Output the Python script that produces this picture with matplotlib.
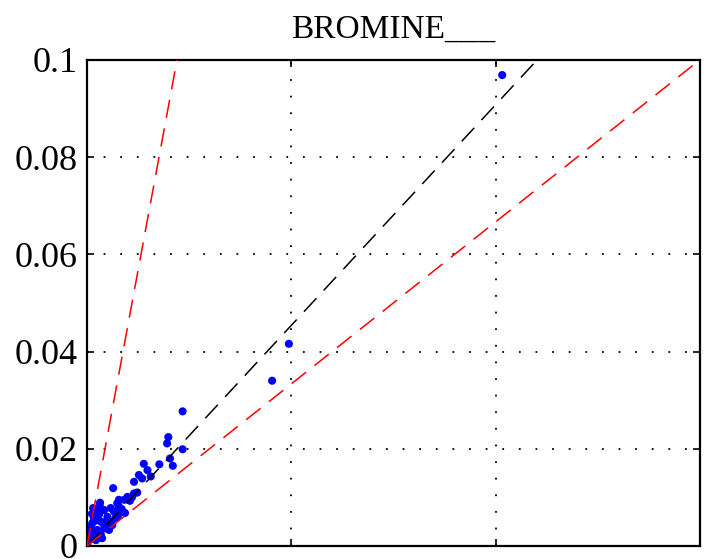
import numpy as np
import matplotlib.pyplot as plt

# measured vs reference concentrations
obs = [0.1016, 0.0494, 0.0453, 0.0234, 0.0199, 0.0196, 0.0234, 0.0203, 0.0210, 0.0177,
       0.0139, 0.0148, 0.0127, 0.0156, 0.0135, 0.0115, 0.0064, 0.0115, 0.0123, 0.0099,
       0.0091, 0.0078, 0.0074, 0.0025, 0.0042, 0.0058, 0.0066, 0.0078, 0.0017, 0.0050,
       0.0034, 0.0062, 0.0009, 0.0025, 0.0042, 0.0017, 0.0005, 0.0001, 0.0034, 0.0050,
       0.0013, 0.0029, 0.0032, 0.0015, 0.0010, 0.0022, 0.0037, 0.0054, 0.0076, 0.0093,
       0.0045, 0.0085, 0.0105, 0.0020, 0.0030, 0.0040, 0.0012, 0.0027, 0.0060, 0.0070,
       0.0008, 0.0046, 0.0019, 0.0031, 0.0083, 0.0110]
pred = [0.0969, 0.0416, 0.0340, 0.0277, 0.0224, 0.0211, 0.0199, 0.0180, 0.0165, 0.0168,
        0.0169, 0.0156, 0.0146, 0.0143, 0.0139, 0.0132, 0.0119, 0.0108, 0.0110, 0.0101,
        0.0095, 0.0095, 0.0088, 0.0071, 0.0074, 0.0078, 0.0071, 0.0081, 0.0057, 0.0060,
        0.0050, 0.0043, 0.0040, 0.0033, 0.0036, 0.0023, 0.0012, 0.0002, 0.0023, 0.0054,
        0.0047, 0.0064, 0.0089, 0.0078, 0.0031, 0.0012, 0.0016, 0.0033, 0.0062, 0.0068,
        0.0045, 0.0076, 0.0093, 0.0052, 0.0067, 0.0046, 0.0066, 0.0027, 0.0049, 0.0058,
        0.0018, 0.0038, 0.0074, 0.0082, 0.0070, 0.0100]

# reference lines through the origin
slope_mid = 0.908
slope_hi = 4.54
slope_lo = 0.667

yticks = [0, 0.02, 0.04, 0.06, 0.08, 0.1]
ytick_labels = ['0', '0.02', '0.04', '0.06', '0.08', '0.1']
xticks = [0, 0.05, 0.1, 0.15]

plt.rcParams['font.family'] = 'Liberation Serif'

fig = plt.figure(figsize=(7.05, 5.59), dpi=100)
ax = fig.add_axes([0.1234, 0.0233, 0.8695, 0.8694])

ax.scatter(obs, pred, s=34, color='#0000ff', edgecolors='none', zorder=2)

xx = np.array([0, 0.15])
ax.plot(xx, slope_mid * xx, color='black', lw=1.1, ls=(0, (12, 7)), zorder=3)
ax.plot(xx, slope_hi * xx, color='red', lw=1.1, ls=(0, (12, 7)), zorder=3)
ax.plot(xx, slope_lo * xx, color='red', lw=1.1, ls=(0, (12, 7)), zorder=3)

ax.set_xlim(0, 0.15)
ax.set_ylim(0, 0.1)
ax.set_xticks(xticks)
ax.set_yticks(yticks)
ax.set_yticklabels(ytick_labels)
ax.tick_params(direction='in', length=5, width=1.2, labelsize=26, labelbottom=False,
               top=True, right=True, pad=7)
ax.grid(True, color='black', lw=1.3, ls=(0, (1, 8.2)))

for s in ax.spines.values():
    s.set_linewidth(1.6)

ax.set_title('BROMINE___', fontsize=24, pad=16)

fig.savefig('out.png', dpi=100)
